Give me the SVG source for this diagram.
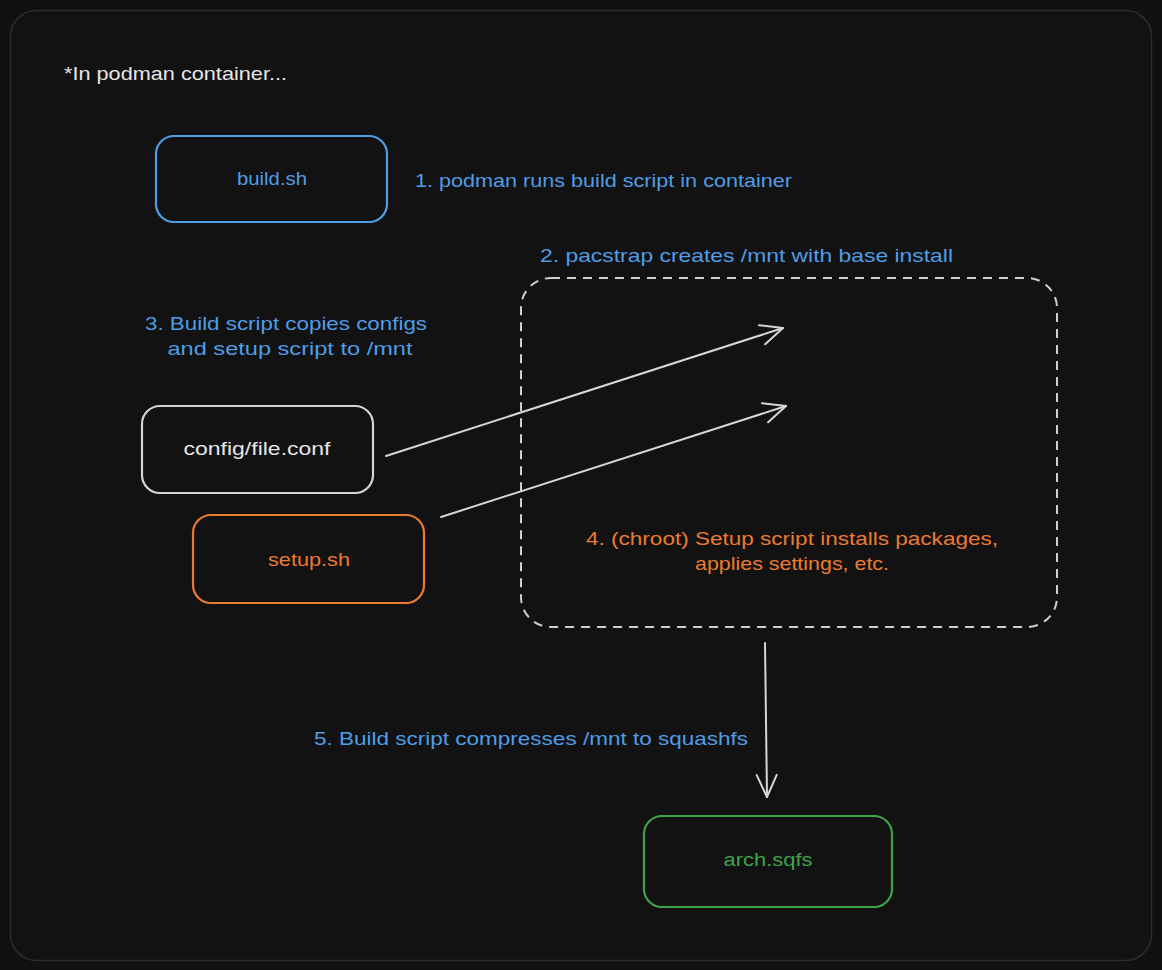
<svg xmlns="http://www.w3.org/2000/svg" width="1162" height="970" viewBox="0 0 1162 970">
<defs>
<style>
.t{font-family:"Liberation Sans",Arial,sans-serif;font-size:19px}
.blue{fill:#4f9de6}
.org{fill:#ec7a30}
.wht{fill:#e6e6e6}
.grn{fill:#3ea24a}
.box{fill:none;stroke-width:2.2}
.conn{fill:none;stroke:#d6d6d6;stroke-width:2;stroke-linecap:round}
</style>
<marker id="ah" viewBox="0 0 26 26" refX="24" refY="13" markerWidth="26" markerHeight="26" markerUnits="userSpaceOnUse" orient="auto">
<path d="M2 3 L24 13 L2 23" fill="none" stroke="#d6d6d6" stroke-width="2" stroke-linecap="round" stroke-linejoin="round"/>
</marker>
</defs>
<rect x="0" y="0" width="1162" height="970" fill="#111111"/>
<rect id="frame" x="10.5" y="10.5" width="1141" height="950" rx="26" fill="#121212" stroke="#2c2c2c" stroke-width="1.5"/>
<text class="t wht" x="64" y="80" textLength="223" lengthAdjust="spacingAndGlyphs">*In podman container...</text>

<g id="build">
<rect class="box" x="156" y="136" width="231" height="86" rx="18" stroke="#4f9de6"/>
<text class="t blue" x="272" y="185" text-anchor="middle" textLength="70" lengthAdjust="spacingAndGlyphs">build.sh</text>
</g>
<g id="config">
<rect class="box" x="142" y="406" width="231" height="87" rx="18" stroke="#d4d4d4"/>
<text class="t wht" x="257" y="455" text-anchor="middle" textLength="147" lengthAdjust="spacingAndGlyphs">config/file.conf</text>
</g>
<g id="setup">
<rect class="box" x="193" y="515" width="231" height="88" rx="18" stroke="#ec7a30"/>
<text class="t org" x="309" y="566" text-anchor="middle" textLength="82" lengthAdjust="spacingAndGlyphs">setup.sh</text>
</g>
<g id="mnt">
<rect x="521" y="278" width="536" height="349" rx="30" fill="none" stroke="#cfcfcf" stroke-width="2" stroke-dasharray="9 7"/>
<text class="t org" x="792" y="545" text-anchor="middle" textLength="412" lengthAdjust="spacingAndGlyphs">4. (chroot) Setup script installs packages,</text>
<text class="t org" x="792" y="570" text-anchor="middle" textLength="194" lengthAdjust="spacingAndGlyphs">applies settings, etc.</text>
</g>
<g id="arch">
<rect class="box" x="644" y="816" width="248" height="91" rx="18" stroke="#3ea24a"/>
<text class="t grn" x="768" y="866" text-anchor="middle" textLength="89" lengthAdjust="spacingAndGlyphs">arch.sqfs</text>
</g>

<g id="labels">
<text class="t blue" x="415" y="187" textLength="377" lengthAdjust="spacingAndGlyphs">1. podman runs build script in container</text>
<text class="t blue" x="540" y="262" textLength="413" lengthAdjust="spacingAndGlyphs">2. pacstrap creates /mnt with base install</text>
<text class="t blue" x="286" y="330" text-anchor="middle" textLength="282" lengthAdjust="spacingAndGlyphs">3. Build script copies configs</text>
<text class="t blue" x="290" y="355" text-anchor="middle" textLength="245" lengthAdjust="spacingAndGlyphs">and setup script to /mnt</text>
<text class="t blue" x="314" y="745" textLength="434" lengthAdjust="spacingAndGlyphs">5. Build script compresses /mnt to squashfs</text>
</g>

<g id="connectors">
<path class="conn" d="M386 456 L783 328" marker-end="url(#ah)"/>
<path class="conn" d="M441 517 L786 406" marker-end="url(#ah)"/>
<path class="conn" d="M765 643 L767 797" marker-end="url(#ah)"/>
</g>
</svg>
